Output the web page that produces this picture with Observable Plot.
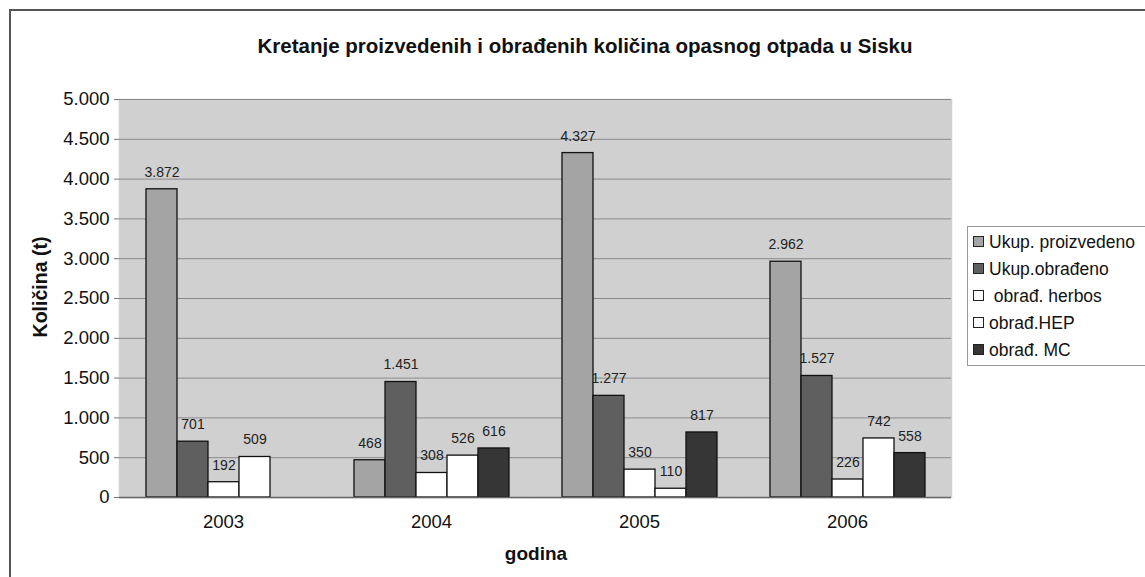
<!DOCTYPE html>
<html>
<head>
<meta charset="utf-8">
<script src="https://cdn.jsdelivr.net/npm/d3@7"></script>
<script src="https://cdn.jsdelivr.net/npm/@observablehq/plot@0.6"></script>
<style>
  html, body { margin: 0; padding: 0; background: #fff; }
  body { width: 1145px; height: 577px; overflow: hidden; position: relative; font-family: "Liberation Sans", Arial, sans-serif; color: #111; }
  #frame { position: absolute; left: 9px; top: 9px; width: 1200px; height: 700px; border-top: 2px solid #555; border-left: 2px solid #555; }
  #title { position: absolute; left: 0; width: 1170px; top: 34px; text-align: center; font-weight: bold; font-size: 20.5px; }
  #chart { position: absolute; left: 0; top: 0; }
  #ylab { position: absolute; left: 40px; top: 287px; transform: translate(-50%, -50%) rotate(-90deg); font-weight: bold; font-size: 19.5px; white-space: nowrap; }
  #xlab { position: absolute; left: 536px; top: 554px; transform: translate(-50%, -50%); font-weight: bold; font-size: 19px; }
  #legend { position: absolute; left: 967px; top: 226px; width: 200px; height: 140px; border: 1px solid #999; background: #fff; box-sizing: border-box; }
  .item { position: absolute; left: 5px; height: 20px; line-height: 20px; font-size: 17.5px; white-space: pre; }
  .sw { display: inline-block; width: 9px; height: 9px; border: 1px solid #222; margin-right: 5px; vertical-align: 1px; }
</style>
</head>
<body>
<div id="frame"></div>
<div id="title">Kretanje proizvedenih i obrađenih količina opasnog otpada u Sisku</div>
<div id="chart"></div>
<div id="ylab">Količina (t)</div>
<div id="xlab">godina</div>
<div id="legend"></div>
<script>
// ---- data ----
const years = ["2003", "2004", "2005", "2006"];
const seriesNames = ["Ukup. proizvedeno", "Ukup.obrađeno", " obrađ. herbos", "obrađ.HEP", "obrađ. MC"];
const ukupProizvedeno = [3872, 468, 4327, 2962];
const ukupObradeno   = [701, 1451, 1277, 1527];
const obradHerbos    = [192, 308, 350, 226];
const obradHEP       = [509, 526, 110, 742];
const obradMC        = [null, 616, 817, 558];
const yTicks = [0, 500, 1000, 1500, 2000, 2500, 3000, 3500, 4000, 4500, 5000];
const seriesColors = ["#a4a4a4", "#5f5f5f", "#ffffff", "#ffffff", "#363636"];

const seriesValues = [ukupProizvedeno, ukupObradeno, obradHerbos, obradHEP, obradMC];
const data = [];
years.forEach((yr, i) => {
  seriesNames.forEach((s, j) => {
    const v = seriesValues[j][i];
    if (v != null) data.push({year: yr, series: s, value: v});
  });
});

const fmt = d3.formatLocale({decimal: ",", thousands: ".", grouping: [3], currency: ["", ""]}).format(",d");

const plot = Plot.plot({
  width: 1145,
  height: 577,
  marginLeft: 118,
  marginRight: 193,
  marginTop: 99,
  marginBottom: 80,
  style: {fontFamily: "'Liberation Sans', Arial, sans-serif", background: "transparent", color: "#111", overflow: "visible"},
  fx: {domain: years, paddingInner: 0, paddingOuter: 0, label: null},
  x: {domain: seriesNames, paddingInner: 0, paddingOuter: 0.758, axis: null},
  y: {domain: [0, 5000], axis: null},
  color: {domain: seriesNames, range: seriesColors},
  marks: [
    Plot.frame({fill: "#d0d0d0", stroke: "#d0d0d0", strokeWidth: 1.5}),
    Plot.gridY({ticks: yTicks, stroke: "#8a8a8a", strokeOpacity: 1, strokeWidth: 1}),
    Plot.axisY({ticks: yTicks, tickFormat: fmt, tickSize: 5, tickPadding: 5, fontSize: 18.5, label: null, stroke: "#777"}),
    Plot.axisFx({anchor: "bottom", tickSize: 0, tickPadding: 17, fontSize: 18.5, label: null}),
    Plot.barY(data, {fx: "year", x: "series", y: "value", fill: "series", stroke: "#111", strokeWidth: 1.3}),
    Plot.text(data, {fx: "year", x: "series", y: "value", text: d => fmt(d.value), dy: -17, fontSize: 14, fill: "#222"}),
    Plot.ruleY([0], {stroke: "#666", strokeWidth: 1.5})
  ]
});
document.getElementById("chart").appendChild(plot);

// legend
const legend = document.getElementById("legend");
seriesNames.forEach((s, j) => {
  const it = document.createElement("div");
  it.className = "item";
  it.style.top = (5 + j * 27) + "px";
  const sw = document.createElement("span");
  sw.className = "sw";
  sw.style.background = seriesColors[j];
  it.appendChild(sw);
  it.appendChild(document.createTextNode(s));
  legend.appendChild(it);
});
</script>
</body>
</html>
